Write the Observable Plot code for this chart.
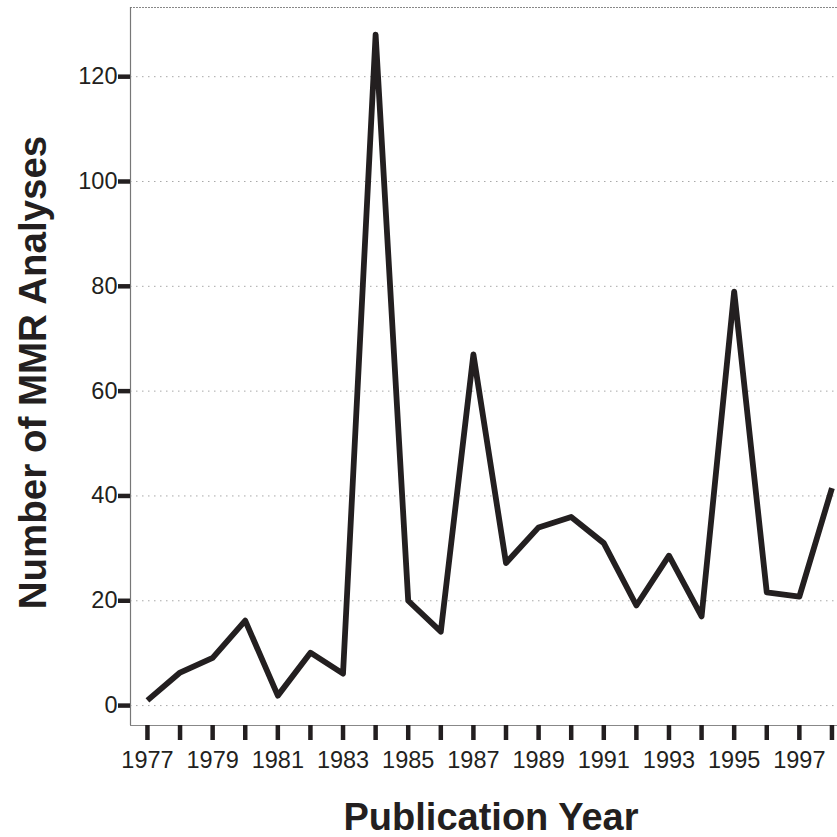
<!DOCTYPE html>
<html>
<head>
<meta charset="utf-8">
<script src="https://cdn.jsdelivr.net/npm/d3@7"></script>
<script src="https://cdn.jsdelivr.net/npm/@observablehq/plot@0.6"></script>
<style>
  html, body { margin: 0; padding: 0; background: #fff; }
  #chart { width: 837px; height: 837px; }
</style>
</head>
<body>
<div id="chart"></div>
<script>
// Data
const years = [1977, 1978, 1979, 1980, 1981, 1982, 1983, 1984, 1985, 1986, 1987,
               1988, 1989, 1990, 1991, 1992, 1993, 1994, 1995, 1996, 1997, 1998];
const counts = [1, 6.3, 9.1, 16.2, 1.9, 10.1, 6.1, 128, 20, 14.1, 67,
                27.2, 34, 36, 31, 19.1, 28.6, 17, 79, 21.6, 20.8, 41.5];
const yTicks = [0, 20, 40, 60, 80, 100, 120];
const xLabelYears = [1977, 1979, 1981, 1983, 1985, 1987, 1989, 1991, 1993, 1995, 1997];
const xDomain = [1976.48, 1998.17];
const yDomain = [-3.8, 133.2];
const xTitle = "Publication Year";
const yTitle = "Number of MMR Analyses";

const data = years.map((y, i) => ({year: y, count: counts[i]}));
const ink = "#231f20";

const chart = Plot.plot({
  width: 837,
  height: 837,
  marginLeft: 130,
  marginRight: 0,
  marginTop: 7,
  marginBottom: 112,
  style: {fontFamily: "'Liberation Sans', Arial, Helvetica, sans-serif", background: "#fff", color: ink},
  x: {domain: xDomain, label: null},
  y: {domain: yDomain, label: null},
  marks: [
    Plot.gridY(yTicks, {stroke: "#999", strokeOpacity: 0.85, strokeWidth: 1, strokeDasharray: "1.5,4.5"}),
    Plot.ruleY([yDomain[1]], {stroke: "#888", strokeWidth: 1, strokeDasharray: "2,1"}),
    Plot.ruleY([yDomain[0]], {stroke: "#888", strokeWidth: 1.2}),
    Plot.ruleX([xDomain[0]], {stroke: "#777", strokeWidth: 1.2}),
    Plot.axisX(years, {
      tickSize: 15, tickPadding: 11, strokeWidth: 4.5, stroke: ink, fill: ink,
      fontSize: 23.5, label: null,
      tickFormat: d => xLabelYears.includes(d) ? String(d) : ""
    }),
    Plot.axisY(yTicks, {
      tickSize: 12, tickPadding: 1, strokeWidth: 4.5, stroke: ink, fill: ink,
      fontSize: 23.5, label: null
    }),
    Plot.line(data, {x: "year", y: "count", stroke: ink, strokeWidth: 5.8, strokeLinejoin: "round", strokeLinecap: "butt"}),
    Plot.text([yTitle], {frameAnchor: "left", textAnchor: "middle", lineAnchor: "middle", rotate: -90, dx: -97, dy: 6, fontSize: 38.5, fontWeight: "bold", fill: ink}),
    Plot.text([xTitle], {frameAnchor: "bottom", textAnchor: "middle", lineAnchor: "middle", dx: 7, dy: 92, fontSize: 38, fontWeight: "bold", fill: ink})
  ]
});
document.getElementById("chart").appendChild(chart);
</script>
</body>
</html>
